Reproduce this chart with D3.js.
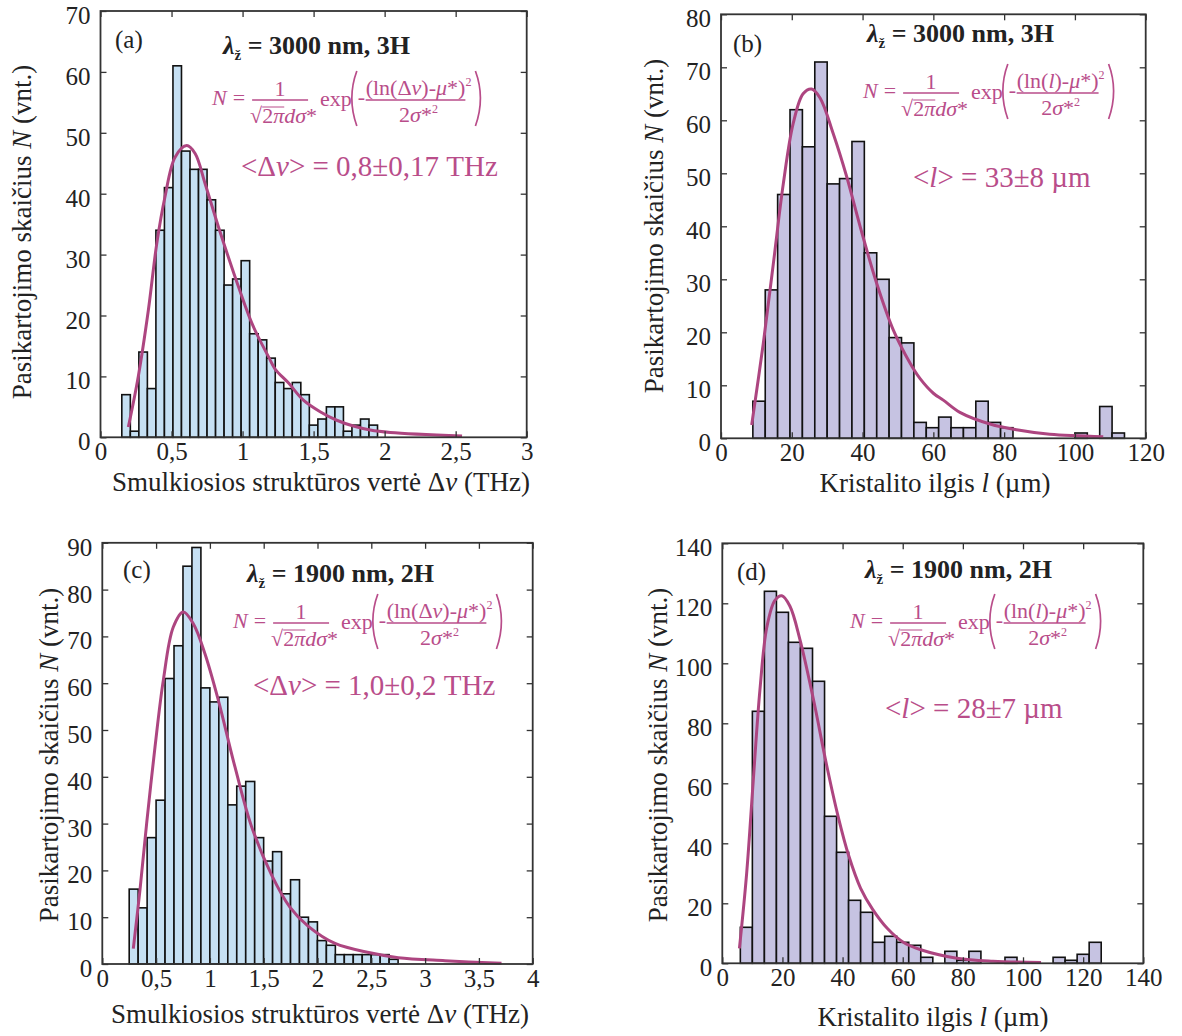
<!DOCTYPE html>
<html>
<head>
<meta charset="utf-8">
<script src="https://cdn.jsdelivr.net/npm/d3@7"></script>
<style>
  body { margin: 0; background: #fff; }
  text { font-family: "Liberation Serif", "Times New Roman", serif; }
</style>
</head>
<body>
<svg id="fig" width="1182" height="1036"></svg>
<script>
// ---------------------------------------------------------------
// Histograms of fine structure value (Δν) and crystallite length (l)
// with log-normal fits, four panels (a)-(d)
// ---------------------------------------------------------------

// (a) Δν, 3000 nm, 3H  -- bins start at 0.15 THz, 0.06 THz wide
const binStartA = 0.15, binWidthA = 0.06;
const countsA = [7, 1, 14, 8, 34, 41, 61, 47, 44, 44, 39, 34, 25, 26, 29,
                 17, 16, 13, 9, 8, 9, 7, 2, 3, 5, 5, 1, 2, 3, 2];
const fitAx = [0.196, 0.266, 0.337, 0.396, 0.454, 0.525, 0.607, 0.666, 0.737, 0.831,
               0.948, 1.066, 1.183, 1.229, 1.324, 1.428, 1.546, 1.663, 1.78, 1.898, 2.04, 2.545];
const fitAy = [1.7, 10, 20.9, 31.8, 39.5, 46, 47.9, 46.6, 41.6, 34.5,
               26.3, 18.7, 13.2, 11.2, 8.9, 6.1, 4.2, 2.8, 1.85, 1.2, 0.8, 0.2];

// (b) l, 3000 nm, 3H -- bins start at 9 µm, 3.5 µm wide
const binStartB = 9, binWidthB = 3.5;
const countsB = [7, 28, 46, 62, 55, 71, 48, 49, 56, 35, 30, 19, 18, 3, 2,
                 4, 2, 2, 7, 3, 2, 0, 0, 0, 0, 0, 1, 0, 6, 1];
const fitBx = [8.67, 11.95, 14.8, 17.6, 20.4, 23.2, 25.6, 28, 31.7, 35.5, 39.3, 44,
               48.7, 53.4, 56.2, 60, 62.8, 67.5, 76, 83.5, 92.9, 108];
const fitBy = [2.5, 17.9, 33, 48, 59.4, 65, 65.9, 64.2, 57.5, 49.4, 40, 29.2,
               20.4, 14.2, 11.3, 8.5, 7.2, 4.9, 2.7, 1.6, 0.75, 0.3];

// (c) Δν, 1900 nm, 2H -- bins start at 0.25 THz, 1/12 THz wide
const binStartC = 0.25, binWidthC = 0.0833;
const countsC = [16, 12, 27, 35, 61, 68, 85, 89, 59, 56, 57, 34, 38, 39, 27,
                 22, 24, 15, 18, 10, 9, 5, 4, 2, 2, 2, 2, 2, 2, 1];
const fitCx = [0.288, 0.350, 0.412, 0.490, 0.567, 0.660, 0.753, 0.846, 0.954, 1.078,
               1.233, 1.388, 1.574, 1.745, 1.912, 2.163, 2.488, 2.75, 3.185, 3.71];
const fitCy = [3.3, 15.8, 30, 46.4, 60.6, 72, 75.2, 72.7, 66.3, 56.4,
               42.1, 29.3, 19, 12.1, 8.1, 4.4, 2.4, 1.35, 0.7, 0.15];

// (d) l, 1900 nm, 2H -- bins start at 6 µm, 4 µm wide
const binStartD = 6, binWidthD = 4;
const countsD = [12, 84, 124, 117, 107, 105, 94, 49, 37, 21, 17, 7, 9, 7, 6,
                 2, 0, 4, 1, 4, 0, 0, 2, 0, 0, 0, 2, 1, 3, 7];
const fitDx = [5.7, 8.1, 10.3, 12.5, 14.8, 17.5, 19.8, 22.5, 25.8, 30.3, 34.7, 38.5,
               42, 46, 50, 55, 60.2, 66, 78, 90, 106];
const fitDy = [5, 30, 61, 91, 112, 121, 122.5, 119, 108, 88, 66, 49,
               36, 25, 18, 11.5, 7, 4.5, 1.7, 0.7, 0.3];

// tick values
const ticksAx = [0, 0.5, 1, 1.5, 2, 2.5, 3];
const ticksAy = [0, 10, 20, 30, 40, 50, 60, 70];
const ticksBx = [0, 20, 40, 60, 80, 100, 120];
const ticksBy = [0, 10, 20, 30, 40, 50, 60, 70, 80];
const ticksCx = [0, 0.5, 1, 1.5, 2, 2.5, 3, 3.5, 4];
const ticksCy = [0, 10, 20, 30, 40, 50, 60, 70, 80, 90];
const ticksDx = [0, 20, 40, 60, 80, 100, 120, 140];
const ticksDy = [0, 20, 40, 60, 80, 100, 120, 140];

// texts
const yLabelParts = [["Pasikartojimo skaičius "], ["N", "i"], [" (vnt.)"]];
const xLabelNu = [["Smulkiosios struktūros vertė Δ"], ["ν", "i"], [" (THz)"]];
const xLabelL = [["Kristalito ilgis "], ["l", "i"], [" (µm)"]];
const meanA = [["<Δ"], ["ν", "i"], ["> = 0,8±0,17 THz"]];
const meanB = [["<"], ["l", "i"], ["> = 33±8 µm"]];
const meanC = [["<Δ"], ["ν", "i"], ["> = 1,0±0,2 THz"]];
const meanD = [["<"], ["l", "i"], ["> = 28±7 µm"]];
const numNu = [["(ln(Δ"], ["ν", "i"], [")-"], ["μ", "i"], ["*)"], ["2", "^"]];
const numL = [["(ln("], ["l", "i"], [")-"], ["μ", "i"], ["*)"], ["2", "^"]];

const pink = "#b94d8a";
const curvePink = "#ad4580";
const ink = "#222";
const blueFill = "#c6e0f3";
const lilacFill = "#c6c3e2";

const svg = d3.select("#fig");

// append tspans (plain / italic) to a text selection
function rich(sel, parts) {
    parts.forEach(([s, st]) => {
        const t = sel.append("tspan").text(s);
        if (st === "i") t.style("font-style", "italic");
    });
    return sel;
}

// one formula run as a single text with tspans; superscript raised
function run(g, parts, size) {
    const t = g.append("text").attr("x", 0).attr("y", 0)
        .style("font-size", size + "px").style("fill", pink);
    let supW = 0;
    parts.forEach(([s, st]) => {
        const sp = t.append("tspan").text(s);
        if (st === "i") sp.style("font-style", "italic");
        if (st === "^") {
            sp.attr("dy", -size * 0.42).style("font-size", (size * 0.55) + "px");
            supW = sp.node().getComputedTextLength();
        }
    });
    return {w: t.node().getComputedTextLength(), supW: supW, node: t};
}

function bigParen(g, x, open) {
    const bend = open ? -10 : 10;
    g.append("path")
        .attr("d", `M${x},-34 Q${x + bend},-7 ${x},21`)
        .attr("fill", "none")
        .attr("stroke", pink)
        .attr("stroke-width", 1.7);
}

function txt(g, x, y, s, fs, italic) {
    const t = g.append("text").attr("x", x).attr("y", y)
        .style("font-size", fs + "px")
        .style("font-style", italic ? "italic" : "normal")
        .style("fill", pink).text(s);
    return t.node().getComputedTextLength();
}

// the log-normal formula, origin = start of "N" on its baseline
function drawFormula(x0, y0, numParts) {
    const fs = 22;
    const f = svg.append("g").attr("transform", `translate(${x0},${y0})`);
    let cx = 0;
    cx += txt(f, cx, 0, "N", fs, true) + 6;
    cx += txt(f, cx, 0, "=", fs, false) + 7;

    // 1 / (√2π d σ*)
    const d1 = f.append("g");
    const r1 = run(d1, [["√2"], ["πdσ", "i"], ["*"]], fs);
    const rootW = r1.node.node().getSubStringLength(0, 1);
    const twoPiW = r1.node.node().getSubStringLength(1, 2);
    const starW = r1.node.node().getSubStringLength(r1.node.node().getNumberOfChars() - 1, 1);
    d1.append("line")
        .attr("x1", rootW).attr("x2", rootW + twoPiW)
        .attr("y1", -16).attr("y2", -16)
        .attr("stroke", pink).attr("stroke-width", 1);
    d1.attr("transform", `translate(${cx - 2},18)`);
    const bar1 = r1.w - starW;
    f.append("line").attr("x1", cx).attr("x2", cx + bar1).attr("y1", -5).attr("y2", -5)
        .attr("stroke", pink).attr("stroke-width", 1.3);
    f.append("text").attr("x", cx + bar1 / 2).attr("y", -9).attr("text-anchor", "middle")
        .style("font-size", fs + "px").style("fill", pink).text("1");
    cx += r1.w + 1;

    cx += txt(f, cx, 1, "exp", fs, false) + 5;
    bigParen(f, cx, true);
    cx += 1;
    cx += txt(f, cx, -1, "-", fs, false) + 0.5;

    // (ln(..)-μ*)² / 2σ*²
    const n2 = f.append("g");
    const r2 = run(n2, numParts, fs);
    n2.attr("transform", `translate(${cx},-10)`);
    const bar2 = r2.w - r2.supW;
    f.append("line").attr("x1", cx).attr("x2", cx + bar2).attr("y1", -5).attr("y2", -5)
        .attr("stroke", pink).attr("stroke-width", 1.3);
    const d2 = f.append("g");
    const r3 = run(d2, [["2"], ["σ", "i"], ["*"], ["2", "^"]], fs);
    d2.attr("transform", `translate(${cx + bar2 / 2 - r3.w / 2 + 3},17)`);
    bigParen(f, cx + r2.w + 4, false);
}

function drawPanel(p) {
    const x = d3.scaleLinear().domain(p.xDomain).range([p.left, p.right]);
    const y = d3.scaleLinear().domain(p.yDomain).range([p.bottom, p.top]);
    const g = svg.append("g");

    // histogram bars
    const bins = p.counts.map((c, i) => ({
        x0: p.binStart + i * p.binWidth,
        x1: p.binStart + (i + 1) * p.binWidth,
        n: c
    })).filter(d => d.n > 0);

    g.selectAll("rect.bar")
        .data(bins)
        .join("rect")
        .attr("class", "bar")
        .attr("x", d => x(d.x0))
        .attr("width", d => x(d.x1) - x(d.x0))
        .attr("y", d => y(d.n))
        .attr("height", d => y(0) - y(d.n))
        .attr("fill", p.fill)
        .attr("stroke", "#111")
        .attr("stroke-width", 1.6);

    // log-normal fit
    const pts = p.fitX.map((v, i) => [v, p.fitY[i]]);
    g.append("path")
        .datum(pts)
        .attr("d", d3.line()
            .x(d => x(d[0]))
            .y(d => y(d[1]))
            .curve(d3.curveCatmullRom.alpha(0.5)))
        .attr("fill", "none")
        .attr("stroke", curvePink)
        .attr("stroke-width", 3);

    // axes with inward ticks on all four sides
    const fmt = d => String(d).replace(".", ",");
    const styleAxis = sel => {
        sel.select(".domain").remove();
        sel.selectAll(".tick line").attr("stroke", "#333").attr("stroke-width", 1.3);
        sel.selectAll("text")
            .style("font-family", "'Liberation Serif', 'Times New Roman', serif")
            .style("font-size", "25px")
            .style("fill", ink);
    };
    g.append("g").attr("transform", `translate(0,${p.bottom})`)
        .call(d3.axisBottom(x).tickValues(p.xTicks).tickFormat(fmt).tickSize(-6).tickPadding(5))
        .call(styleAxis);
    g.append("g").attr("transform", `translate(0,${p.top})`)
        .call(d3.axisTop(x).tickValues(p.xTicks).tickFormat(() => "").tickSize(-6))
        .call(styleAxis);
    const yl = g.append("g").attr("transform", `translate(${p.left},0)`)
        .call(d3.axisLeft(y).tickValues(p.yTicks).tickFormat(fmt).tickSize(-6).tickPadding(10))
        .call(styleAxis);
    yl.selectAll("text").attr("dy", "0.5em");
    g.append("g").attr("transform", `translate(${p.right},0)`)
        .call(d3.axisRight(y).tickValues(p.yTicks).tickFormat(() => "").tickSize(-6))
        .call(styleAxis);

    // frame
    g.append("rect")
        .attr("x", p.left).attr("y", p.top)
        .attr("width", p.right - p.left).attr("height", p.bottom - p.top)
        .attr("fill", "none").attr("stroke", "#333").attr("stroke-width", 1.8);

    // axis labels
    rich(svg.append("text")
        .attr("x", p.xLabPos[0]).attr("y", p.xLabPos[1])
        .attr("text-anchor", "middle")
        .style("font-size", "27px").style("fill", ink), p.xLabel);
    rich(svg.append("text")
        .attr("transform", `translate(${p.yLabPos[0]},${p.yLabPos[1]}) rotate(-90)`)
        .attr("text-anchor", "middle")
        .style("font-size", "27px").style("fill", ink), yLabelParts);

    // panel letter
    svg.append("text").attr("x", p.letterPos[0]).attr("y", p.letterPos[1])
        .style("font-size", "25px").style("fill", ink).text(p.letter);

    // title λž = ...
    const tt = svg.append("text").attr("x", p.titlePos[0]).attr("y", p.titlePos[1])
        .style("font-size", "26px").style("font-weight", "bold").style("fill", ink);
    tt.append("tspan").style("font-style", "italic").text("λ");
    tt.append("tspan").attr("dy", 6).style("font-size", "15px").text("ž");
    tt.append("tspan").attr("dy", -6).text(" = " + p.title);

    drawFormula(p.formulaPos[0], p.formulaPos[1], p.numParts);

    rich(svg.append("text").attr("x", p.meanPos[0]).attr("y", p.meanPos[1])
        .style("font-size", "29px").style("fill", pink), p.mean);
}

const panels = [
    {letter: "(a)", left: 100.5, right: 526.7, top: 11, bottom: 437.3,
     xDomain: [0, 3], yDomain: [0, 70], xTicks: ticksAx, yTicks: ticksAy,
     binStart: binStartA, binWidth: binWidthA, counts: countsA, fitX: fitAx, fitY: fitAy,
     fill: blueFill, xLabel: xLabelNu, numParts: numNu, mean: meanA, title: "3000 nm, 3H",
     xLabPos: [321, 491], yLabPos: [31, 232], letterPos: [115, 48], titlePos: [223, 54],
     formulaPos: [212, 105], meanPos: [241, 176]},
    {letter: "(b)", left: 721, right: 1145.7, top: 14.3, bottom: 438.3,
     xDomain: [0, 120], yDomain: [0, 80], xTicks: ticksBx, yTicks: ticksBy,
     binStart: binStartB, binWidth: binWidthB, counts: countsB, fitX: fitBx, fitY: fitBy,
     fill: lilacFill, xLabel: xLabelL, numParts: numL, mean: meanB, title: "3000 nm, 3H",
     xLabPos: [935, 492], yLabPos: [663, 226], letterPos: [733, 52], titlePos: [867, 42],
     formulaPos: [863, 98], meanPos: [913, 187]},
    {letter: "(c)", left: 102.3, right: 532.7, top: 542.8, bottom: 964,
     xDomain: [0, 4], yDomain: [0, 90], xTicks: ticksCx, yTicks: ticksCy,
     binStart: binStartC, binWidth: binWidthC, counts: countsC, fitX: fitCx, fitY: fitCy,
     fill: blueFill, xLabel: xLabelNu, numParts: numNu, mean: meanC, title: "1900 nm, 2H",
     xLabPos: [320, 1023], yLabPos: [58, 755], letterPos: [123, 578], titlePos: [247, 582],
     formulaPos: [233, 628], meanPos: [253, 695]},
    {letter: "(d)", left: 722.3, right: 1143.3, top: 543.3, bottom: 963.3,
     xDomain: [0, 140], yDomain: [0, 140], xTicks: ticksDx, yTicks: ticksDy,
     binStart: binStartD, binWidth: binWidthD, counts: countsD, fitX: fitDx, fitY: fitDy,
     fill: lilacFill, xLabel: xLabelL, numParts: numL, mean: meanD, title: "1900 nm, 2H",
     xLabPos: [933, 1026], yLabPos: [667, 755], letterPos: [737, 580], titlePos: [865, 578],
     formulaPos: [850, 628], meanPos: [885, 718]}
];

panels.forEach(drawPanel);
</script>
</body>
</html>
